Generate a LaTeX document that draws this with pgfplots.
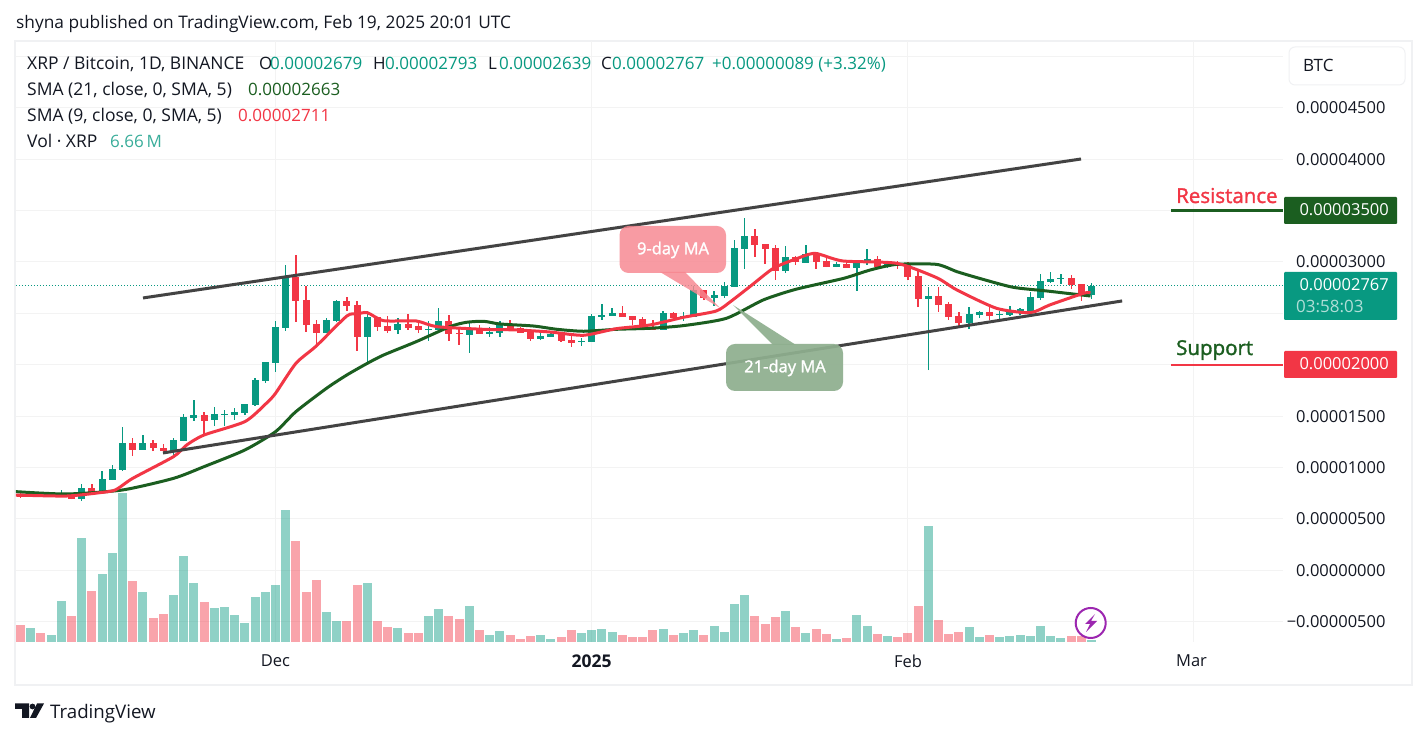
\documentclass[border=0pt]{standalone}
\usepackage{fontspec}
\setmainfont{Open Sans}
\newfontfamily\medfont[FakeBold=1.5]{Open Sans}
\usepackage{pgfplots}
\usepackage{pgfplotstable}
\pgfplotsset{compat=1.18}
\definecolor{tvgreen}{HTML}{089981}
\definecolor{tvred}{HTML}{F23645}
\definecolor{dkgreen}{HTML}{1B5E20}
\definecolor{gridc}{HTML}{F3F3F3}
\definecolor{framec}{HTML}{F0F1F3}
\definecolor{txt}{HTML}{131722}
\definecolor{trend}{HTML}{434343}
\definecolor{sagec}{HTML}{8FAF8F}
\definecolor{boltc}{HTML}{9C27B0}
\pgfplotstableread{
d o h l c
-24 717 772 717 733
-22 727 749 717 733
-21 733 782 717 743
-19 694 840 675 801
-17 753 967 743 889
-16 879 1025 879 986
-15 976 1395 967 1239
-13 1171 1317 1171 1239
-10 1161 1288 1122 1268
-9 1258 1521 1258 1492
-8 1482 1657 1453 1511
-6 1463 1589 1404 1521
-5 1515 1560 1404 1521
-4 1511 1580 1463 1541
-3 1531 1618 1511 1618
-2 1609 1871 1599 1852
-1 1846 2027 1826 2027
0 2021 2426 1933 2368
1 2358 2971 2332 2857
5 2309 2455 2306 2436
6 2426 2630 2413 2621
9 2274 2517 2014 2465
12 2342 2455 2300 2397
15 2343 2426 2235 2349
16 2339 2553 2339 2426
19 2290 2416 2115 2339
21 2303 2368 2274 2319
22 2313 2426 2270 2387
26 2251 2309 2241 2280
27 2270 2319 2270 2300
30 2225 2261 2183 2232
31 2222 2494 2222 2475
32 2468 2591 2436 2484
33 2478 2553 2475 2504
38 2342 2523 2339 2504
40 2462 2514 2426 2475
41 2465 2767 2465 2728
43 2653 2718 2572 2679
44 2669 2806 2650 2767
45 2757 3214 2757 3136
46 3127 3428 2932 3253
50 2916 3156 2896 3049
52 2994 3165 2994 3078
55 2951 3000 2951 2981
57 2942 3000 2718 3000
58 2990 3127 2971 3029
60 2951 3010 2942 2990
64 2640 2757 1949 2669
68 2407 2562 2348 2494
69 2484 2523 2455 2514
71 2488 2523 2436 2494
72 2484 2572 2475 2523
73 2530 2553 2484 2540
74 2523 2708 2523 2660
75 2650 2883 2630 2815
76 2806 2903 2796 2835
77 2838 2883 2786 2844
80 2679 2793 2639 2767
}\upcandles
\pgfplotstableread{
d o h l c
-25 743 749 707 717
-23 733 749 717 723
-20 733 743 694 694
-18 801 840 743 753
-14 1239 1288 1113 1171
-12 1239 1268 1161 1190
-11 1190 1229 1151 1161
-7 1511 1541 1317 1453
2 2857 3068 2419 2624
3 2630 2770 2322 2390
4 2397 2436 2176 2312
7 2621 2663 2526 2575
8 2582 2624 2137 2274
10 2465 2465 2332 2371
11 2377 2475 2313 2332
13 2397 2494 2339 2358
14 2377 2416 2309 2342
17 2426 2484 2235 2300
18 2309 2348 2193 2303
20 2348 2387 2300 2300
23 2387 2436 2332 2339
24 2358 2371 2313 2313
25 2329 2339 2232 2254
28 2309 2319 2225 2235
29 2241 2280 2173 2215
34 2504 2572 2465 2465
35 2475 2475 2387 2436
36 2446 2465 2368 2368
37 2368 2436 2339 2342
39 2504 2514 2442 2455
42 2728 2728 2630 2650
47 3253 3321 3049 3165
48 3175 3175 2981 3127
49 3136 3165 2825 2916
51 3049 3058 2971 3000
53 3078 3088 2932 3000
54 3010 3049 2951 2951
56 2981 3000 2942 2942
59 3029 3058 2932 2951
61 2990 3010 2932 2961
62 2971 3000 2825 2854
63 2864 2922 2562 2640
65 2669 2757 2514 2582
66 2591 2611 2436 2465
67 2475 2514 2368 2407
70 2514 2562 2436 2475
78 2844 2874 2737 2776
79 2786 2786 2621 2679
}\downcandles
\pgfplotstableread{
d v
-24 47
-22 23
-21 137
-19 346
-17 226
-16 296
-15 496
-13 167
-10 157
-9 286
-8 196
-6 113
-5 117
-4 90
-3 63
-2 150
-1 167
0 190
1 440
5 100
6 70
9 196
12 47
15 87
16 110
19 120
21 23
22 37
26 23
27 10
30 30
31 40
32 43
33 33
38 43
40 30
41 40
43 53
44 33
45 127
46 157
50 103
52 30
55 10
57 90
58 53
60 20
64 386
68 50
69 17
71 17
72 20
73 23
74 20
75 53
76 20
77 13
80 6.66
}\upvol
\pgfplotstableread{
d v
-25 57
-23 30
-20 87
-18 170
-14 203
-12 80
-11 93
-7 133
2 336
3 167
4 206
7 70
8 190
10 70
11 50
13 30
14 30
17 87
18 77
20 40
23 23
24 10
25 20
28 17
29 40
34 23
35 17
36 17
37 40
39 23
42 23
47 87
48 60
49 83
51 50
53 43
54 27
56 13
59 27
61 17
62 30
63 120
65 73
66 27
67 33
70 23
78 20
79 20
}\downvol
\pgfplotsset{
  wick/.style={forget plot, draw=none, mark=none,
    error bars/.cd, y dir=plus, y explicit, error mark=none,
    error bar style={line width=1.3pt, draw=#1, solid}},
  body/.style={forget plot, draw=none, mark=none,
    error bars/.cd, y dir=both, y explicit, error mark=none,
    error bar style={line width=7pt, draw=#1, solid}},
  pane/.style={scale only axis, width=1267pt, height=601pt,
    at={(16pt,96pt)}, anchor=south west,
    xmin=-25.44, xmax=98.77},
}
\begin{document}
\begin{tikzpicture}[x=1pt,y=1pt]
\useasboundingbox (0,0) rectangle (1427,738);
\fill[white] (0,0) rectangle (1427,738);
\draw[framec, line width=1.5pt] (15,53) rectangle (1412,697);
\draw[framec, line width=2.5pt] (15,53) -- (15,697);
\begin{axis}[pane,
  ymin=-697, ymax=5150,
  axis line style={draw=none}, tick style={draw=none},
  grid=major, grid style={gridc, line width=1pt},
  xtick={0,31,62,90},
  xticklabels={Dec,{\fontsize{17.5}{18}\selectfont\bfseries 2025},Feb,\hspace*{-4pt}Mar},
  xticklabel style={font=\fontsize{16.5}{18}\selectfont, text=txt, yshift=-9pt},
  ytick={-500,0,500,1000,1500,2000,2500,3000,3500,4000,4500,5000},
  yticklabels={−0.00000500,0.00000000,0.00000500,0.00001000,0.00001500,,,0.00003000,,0.00004000,0.00004500,},
  yticklabel pos=right,
  yticklabel style={font=\fontsize{16.5}{18}\selectfont, text=txt, anchor=east, xshift=106pt},
]
\addplot[tvgreen, dash pattern=on 1pt off 2pt, line width=1pt, forget plot] coordinates {(-25.44,2767) (98.77,2767)};
\addplot[wick=tvgreen] table[x=d, y=l, y error plus expr=\thisrow{h}-\thisrow{l}] {\upcandles};
\addplot[wick=tvred] table[x=d, y=l, y error plus expr=\thisrow{h}-\thisrow{l}] {\downcandles};
\addplot[body=tvgreen] table[x=d, y expr=(\thisrow{o}+\thisrow{c})/2, y error expr=abs(\thisrow{o}-\thisrow{c})/2] {\upcandles};
\addplot[body=tvred] table[x=d, y expr=(\thisrow{o}+\thisrow{c})/2, y error expr=abs(\thisrow{o}-\thisrow{c})/2] {\downcandles};
% SMA 21
\addplot[dkgreen, line width=3pt, smooth, tension=0.4, forget plot] coordinates {
(-25.5,766)(-20.5,743)(-15,782)(-10,895)(-7,1009)(-3,1171)(0,1349)(2,1544)(5,1771)(7,1901)(9,2014)(10.6,2095)(13.8,2225)(17.1,2371)(18.7,2413)(20.4,2423)(22,2397)(25.3,2377)(27.6,2345)(30.2,2326)(33.4,2345)(36.7,2355)(40,2381)(44.2,2452)(47.8,2630)(51,2734)(55.7,2841)(58.3,2922)(60.9,2977)(64.8,2977)(66.8,2906)(69,2841)(72.3,2754)(75.6,2718)(79.9,2669)};
% SMA 9
\addplot[tvred, line width=3pt, smooth, tension=0.4, forget plot] coordinates {
(-25.5,733)(-20.5,723)(-17.2,756)(-15.7,782)(-14,895)(-10,1106)(-8.7,1220)(-7,1317)(-3,1447)(-0.9,1625)(0,1722)(2,2014)(4,2183)(7,2475)(8,2494)(9,2507)(10.6,2429)(13.8,2426)(15.8,2371)(20.4,2345)(23.6,2339)(26.9,2319)(30.2,2287)(33.4,2351)(36.7,2387)(40,2462)(43.2,2523)(44.6,2614)(46.5,2760)(48.8,2938)(51,3029)(52.9,3084)(55.6,3010)(60.9,2987)(64.8,2848)(66.8,2728)(70.7,2549)(74,2507)(75.9,2582)(79.2,2695)(79.9,2702)};
% channel
\addplot[trend, line width=3pt, forget plot] coordinates {(-12.99,2650)(78.97,4002)};
\addplot[trend, line width=3pt, forget plot] coordinates {(-11.03,1142)(83,2621)};
% resistance / support
\addplot[dkgreen, line width=2.5pt, forget plot] coordinates {(87.8,3500)(98.77,3500)};
\addplot[tvred, line width=2.5pt, forget plot] coordinates {(87.8,2000)(98.77,2000)};
\end{axis}
\begin{axis}[pane, ymin=0, ymax=2001, hide axis, clip=true]
\addplot[ycomb, color=tvgreen, line width=9pt, opacity=0.45, mark=none, forget plot] table[x=d,y=v] {\upvol};
\addplot[ycomb, color=tvred, line width=9pt, opacity=0.45, mark=none, forget plot] table[x=d,y=v] {\downvol};
\end{axis}
% callouts
\fill[fill=tvred!60!white, opacity=.82, rounded corners=9pt] (619.5,512) rectangle (726,465);
\fill[fill=tvred!60!white, opacity=.82] (660,466) -- (685,466) -- (720,430) -- cycle;
\node[white, font=\medfont\fontsize{16.5}{18}\selectfont] at (673,488) {9-day MA};
\fill[fill=sagec, opacity=.93, rounded corners=9pt] (726,394) rectangle (843,347);
\fill[fill=sagec, opacity=.93] (773,393) -- (796,393) -- (733,433) -- cycle;
\node[white, font=\medfont\fontsize{16.5}{18}\selectfont] at (785,370) {21-day MA};
% labels
\begin{scope}[font=\fontsize{17}{20}\selectfont]
\node[anchor=base west, inner sep=0, text=txt, font=\fontsize{17.3}{20}\selectfont] at (16,709) {shyna published on TradingView.com, Feb 19, 2025 20:01 UTC};
\begin{scope}[font=\fontsize{17.5}{20}\selectfont]
\node[anchor=base west, inner sep=0, text=txt] at (27,668) {XRP / Bitcoin, 1D, BINANCE};
\node[anchor=base west, inner sep=0, text=txt] at (27,642) {SMA (21, close, 0, SMA, 5)};
\node[anchor=base west, inner sep=0, text=txt] at (27,616) {SMA (9, close, 0, SMA, 5)};
\node[anchor=base west, inner sep=0, text=txt] at (27,590) {Vol · XRP};
\end{scope}
\node[anchor=base west, inner sep=0, text=txt] at (259,668) {O};
\node[anchor=base west, inner sep=0, text=tvgreen] at (270,668) {0.00002679};
\node[anchor=base west, inner sep=0, text=txt] at (373,668) {H};
\node[anchor=base west, inner sep=0, text=tvgreen] at (385,668) {0.00002793};
\node[anchor=base west, inner sep=0, text=txt] at (488,668) {L};
\node[anchor=base west, inner sep=0, text=tvgreen] at (499,668) {0.00002639};
\node[anchor=base west, inner sep=0, text=txt] at (601,668) {C};
\node[anchor=base west, inner sep=0, text=tvgreen] at (612,668) {0.00002767};
\node[anchor=base west, inner sep=0, text=tvgreen] at (712,668) {+0.00000089 (+3.32\%)};
\node[anchor=base west, inner sep=0, text=dkgreen] at (248,642) {0.00002663};
\node[anchor=base west, inner sep=0, text=tvred] at (238,616) {0.00002711};
\node[anchor=base west, inner sep=0, text=tvgreen!80!white] at (110,590) {6.66\,M};
% BTC box
\draw[framec, fill=white, line width=1pt, rounded corners=6pt] (1289,691) rectangle (1405,653);
\node[anchor=base west, inner sep=0, text=txt] at (1303,666) {BTC};
% tags
\fill[dkgreen, rounded corners=1pt] (1284,541) rectangle (1397,514);
\node[anchor=base east, inner sep=0, white, font=\fontsize{16.5}{20}\selectfont] at (1389,522) {0.00003500};
\fill[tvgreen, rounded corners=1pt] (1284,466) rectangle (1397,418);
\node[anchor=base east, inner sep=0, white, font=\fontsize{16.5}{20}\selectfont] at (1389,447) {0.00002767};
\node[anchor=base west, inner sep=0, text=white!68!tvgreen] at (1296,425) {03:58:03};
\fill[tvred, rounded corners=1pt] (1284,387) rectangle (1397,360);
\node[anchor=base east, inner sep=0, white, font=\fontsize{16.5}{20}\selectfont] at (1389,368) {0.00002000};
\end{scope}
\node[anchor=base west, inner sep=0, text=tvred, font=\medfont\fontsize{20.5}{24}\selectfont] at (1176,535) {Resistance};
\node[anchor=base west, inner sep=0, text=dkgreen, font=\medfont\fontsize{20.5}{24}\selectfont] at (1176,383) {Support};
% footer
\node[anchor=base west, inner sep=0, text=txt, font=\fontsize{18.7}{22}\selectfont] at (50,19) {TradingView};
\fill[txt] (15,34.5) -- (29,34.5) -- (29,20) -- (22,20) -- (22,29) -- (15,29) -- cycle;
\fill[txt] (32.5,31.5) circle (2.9);
\fill[txt] (44,34.5) -- (37,34.5) -- (30,20) -- (36,20) -- cycle;
% bolt
\draw[boltc, line width=2pt, fill=white] (1090.7,115) circle (15);
\fill[boltc] (1095,124) -- (1085,114) -- (1090,114) -- (1086,106) -- (1097,117) -- (1091,117) -- cycle;
\end{tikzpicture}
\end{document}
